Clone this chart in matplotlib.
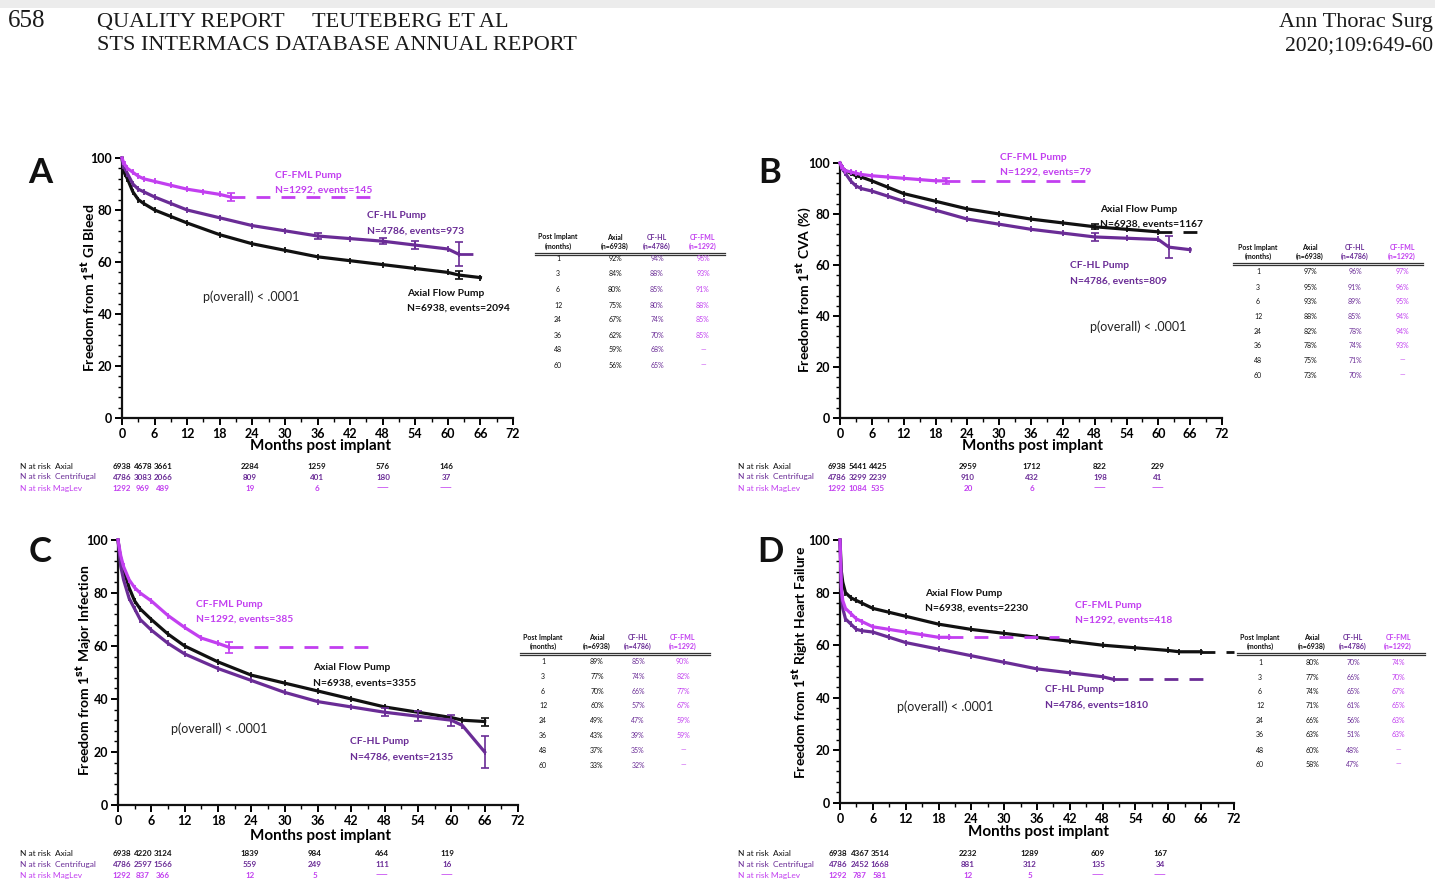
import matplotlib
matplotlib.use("Agg")
import matplotlib.pyplot as plt
from matplotlib.patches import Rectangle
from matplotlib.ticker import MultipleLocator, AutoMinorLocator

plt.rcParams['font.family'] = ['Lato', 'DejaVu Sans']

W, H = 1435, 880
BLACK = "#111111"
HL = "#6a2c96"
FML = "#c23ff0"

# ---- survival data (months post implant, % freedom from event) ----
m_long = [0, 0.25, 0.5, 1, 2, 3, 4, 6, 9, 12, 18, 24, 30, 36, 42, 48, 54, 60, 62, 66]
m_fml = [0, 0.25, 0.5, 1, 2, 3, 4, 6, 9, 12, 15, 18, 20]
m_hl_d = [0, 0.25, 0.5, 1, 2, 3, 4, 6, 9, 12, 18, 24, 30, 36, 42, 48, 50]

axial_a = [100, 96, 94, 92, 87, 84, 82.5, 80, 77.5, 75, 70.5, 67, 64.5, 62, 60.5, 59, 57.5, 56, 55, 54]
hl_a = [100, 97, 96, 94, 90, 88, 87, 85, 82.5, 80, 77, 74, 72, 70, 69, 68, 66.5, 65, 63]
fml_a = [100, 98.5, 97.5, 96, 94.5, 93, 92, 91, 89.5, 88, 87, 86, 85]

axial_b = [100, 99, 98, 97, 96, 95, 94.5, 93, 90.5, 88, 85, 82, 80, 78, 76.5, 75, 74, 73]
hl_b = [100, 98.5, 97.5, 96, 93, 91, 90, 89, 87, 85, 81.5, 78, 76, 74, 72.5, 71, 70.5, 70, 67, 66]
fml_b = [100, 99, 98, 97, 96.5, 96, 95.5, 95, 94.5, 94, 93.5, 93, 93]

axial_c = [100, 96, 93, 89, 82, 77, 74, 70, 64.5, 60, 54, 49, 46, 43, 40, 37, 35, 33, 32, 31.5]
hl_c = [100, 95, 90, 85, 78, 74, 70, 66, 61, 57, 51.5, 47, 42.5, 39, 37, 35, 33.5, 32, 30, 20]
fml_c = [100, 97, 94, 90, 85, 82, 80, 77, 71.5, 67, 63, 61, 59.5]

axial_d = [100, 88, 84, 80, 78, 77, 76, 74, 72.5, 71, 68, 66, 64.5, 63, 61.5, 60, 59, 58, 57.5, 57.5]
hl_d = [100, 80, 74, 70, 68, 66, 65.5, 65, 63, 61, 58.5, 56, 53.5, 51, 49.5, 48, 47]
fml_d = [100, 82, 77, 74, 72, 70, 69, 67, 66, 65, 64, 63, 63]

# ---- side tables ----
table_months = [1, 3, 6, 12, 24, 36, 48, 60]
tab_a = ([92, 84, 80, 75, 67, 62, 59, 56], [94, 88, 85, 80, 74, 70, 68, 65], [96, 93, 91, 88, 85, 85, None, None])
tab_b = ([97, 95, 93, 88, 82, 78, 75, 73], [96, 91, 89, 85, 78, 74, 71, 70], [97, 96, 95, 94, 94, 93, None, None])
tab_c = ([89, 77, 70, 60, 49, 43, 37, 33], [85, 74, 66, 57, 47, 39, 35, 32], [90, 82, 77, 67, 59, 59, None, None])
tab_d = ([80, 77, 74, 71, 66, 63, 60, 58], [70, 66, 65, 61, 56, 51, 48, 47], [74, 70, 67, 65, 63, 63, None, None])

# ---- numbers at risk ----
risk_a = ([6938, 4678, 3661, 2284, 1259, 576, 146], [4786, 3083, 2066, 809, 401, 180, 37], [1292, 969, 489, 19, 6, None, None])
risk_b = ([6938, 5441, 4425, 2959, 1712, 822, 229], [4786, 3299, 2239, 910, 432, 198, 41], [1292, 1084, 535, 20, 6, None, None])
risk_c = ([6938, 4220, 3124, 1839, 984, 464, 119], [4786, 2597, 1566, 559, 249, 111, 16], [1292, 837, 366, 12, 5, None, None])
risk_d = ([6938, 4367, 3514, 2232, 1289, 609, 167], [4786, 2452, 1668, 881, 312, 135, 34], [1292, 787, 581, 12, 5, None, None])

fig = plt.figure(figsize=(W / 100, H / 100), dpi=100)
fig.patch.set_facecolor("white")


def fx(x):
    return x / W


def fy(y):
    return 1 - y / H


def ptext(x, y, s, **kw):
    fig.text(fx(x), fy(y), s, **kw)


# page header
fig.patches.append(Rectangle((0, fy(8)), 1, 8 / H, transform=fig.transFigure,
                             facecolor="#ececec", edgecolor="none"))
serif = dict(family="Liberation Serif", color="#1a1a1a")
ptext(8, 21, "658", fontsize=18, va="center", **serif)
ptext(97, 23, "QUALITY REPORT     TEUTEBERG ET AL", fontsize=16, va="center", **serif)
ptext(97, 46, "STS INTERMACS DATABASE ANNUAL REPORT", fontsize=16, va="center", **serif)
ptext(1433, 23, "Ann Thorac Surg", fontsize=16, va="center", ha="right", **serif)
ptext(1433, 46, "2020;109:649-60", fontsize=15.5, va="center", ha="right", **serif)


def panel(p):
    l, t, r, b = p["rect"]
    ax = fig.add_axes([fx(l), fy(b), (r - l) / W, (b - t) / H])
    ax.set_xlim(0, 72)
    ax.set_ylim(0, 100)
    for s in ("top", "right"):
        ax.spines[s].set_visible(False)
    for s in ("left", "bottom"):
        ax.spines[s].set_linewidth(1.6)
        ax.spines[s].set_color(BLACK)
    ax.xaxis.set_major_locator(MultipleLocator(6))
    ax.xaxis.set_minor_locator(AutoMinorLocator(2))
    ax.yaxis.set_major_locator(MultipleLocator(20))
    ax.yaxis.set_minor_locator(AutoMinorLocator(5))
    ax.tick_params(which="major", length=5, width=1.4, labelsize=9, pad=2)
    ax.tick_params(which="minor", length=3, width=1.0)
    for lab in ax.get_xticklabels() + ax.get_yticklabels():
        lab.set_fontweight("bold")
    ax.patch.set_alpha(0)

    for months, vals, color, dash_to, errs in p["curves"]:
        ax.plot(months[:len(vals)], vals, color=color, lw=2.3, marker="|", ms=4.5, mew=1.3,
                markevery=slice(1, None), clip_on=False, zorder=3)
        last = months[len(vals) - 1]
        if dash_to:
            ax.plot([last, dash_to], [vals[-1], vals[-1]], color=color, lw=2.0,
                    ls=(0, (5, 4)), clip_on=False, zorder=3)
        for m, half in errs:
            i = months.index(m)
            ax.errorbar(m, vals[i], yerr=half, color=color, capsize=3, lw=1.2,
                        capthick=1.2, zorder=4)

    # panel letter, axis titles
    lx, ly = p["letter_xy"]
    ptext(lx, ly, p["name"], fontsize=25, fontweight="bold", ha="center", va="center", color=BLACK)
    lx, ly = p["ylab_xy"]
    ptext(lx, ly, p["ylabel"], rotation=90, fontsize=10, fontweight="bold", ha="center", va="center")
    mx, my = p["xlab_xy"]
    ptext(mx, my, "Months post implant", fontsize=11, fontweight="bold", ha="center", va="center")
    px, py = p["p_xy"]
    ptext(px, py, "p(overall) < .0001", fontsize=9, ha="left", va="center", color="#222222")

    # curve labels
    for (x, y), name, info, color in p["labels"]:
        ptext(x, y, name, fontsize=7.4, fontweight="bold", color=color, va="center")
        ptext(x, y + 15, info, fontsize=7.4, fontweight="bold", color=color, va="center")

    # side table
    cols = p["tab_x"]
    hy = p["tab_hy"]
    heads = [("Post Implant", "(months)", BLACK), ("Axial", "(n=6938)", BLACK),
             ("CF-HL", "(n=4786)", HL), ("CF-FML", "(n=1292)", FML)]
    for cx, (h1, h2, c) in zip(cols, heads):
        ptext(cx, hy, h1, fontsize=5, fontweight="bold", color=c, ha="center", va="center")
        ptext(cx, hy + 9, h2, fontsize=5, fontweight="bold", color=c, ha="center", va="center")
    x0, x1 = p["tab_line"]
    ly0 = hy + 16
    for dy in (0, 2):
        fig.add_artist(plt.Line2D([fx(x0), fx(x1)], [fy(ly0 + dy), fy(ly0 + dy)],
                                  transform=fig.transFigure, color="#333333", lw=0.9))
    colors = [BLACK, HL, FML]
    for k, m in enumerate(table_months):
        ry = p["tab_rows"][k]
        ptext(cols[0], ry, str(m), fontsize=5, ha="center", va="center", color=BLACK)
        for j in range(3):
            v = p["table"][j][k]
            s = "\u2014" if v is None else f"{v}%"
            ptext(cols[j + 1], ry, s, fontsize=5, ha="center", va="center", color=colors[j])

    # numbers at risk
    rl = p["risk_label_x"]
    names = ["N at risk  Axial", "N at risk  Centrifugal", "N at risk MagLev"]
    for j in range(3):
        ry = p["risk_y"][j]
        ptext(rl, ry, names[j], fontsize=6, color=colors[j], va="center")
        for cx, v in zip(p["risk_x"], p["risk"][j]):
            s = "\u2014\u2014" if v is None else str(v)
            ptext(cx, ry, s, fontsize=5.8, fontweight="bold", color=colors[j], ha="center", va="center")
    return ax


panels = [
    dict(name="A", rect=(122, 158, 513, 418), letter_xy=(40, 173), ylabel="Freedom from 1$^{\\mathbf{st}}$ GI Bleed",
         ylab_xy=(88, 288), xlab_xy=(320, 446), p_xy=(203, 297),
         curves=[(m_long, axial_a, BLACK, None, [(62, 1.5)]),
                 (m_long, hl_a, HL, 66, [(36, 1.0), (48, 1.2), (54, 1.5), (62, 4.5)]),
                 (m_fml, fml_a, FML, 47, [(20, 1.5)])],
         labels=[((275, 175), "CF-FML Pump", "N=1292, events=145", FML),
                 ((367, 216), "CF-HL Pump", "N=4786, events=973", HL),
                 ((407, 293), "Axial Flow Pump", "N=6938, events=2094", BLACK)],
         table=tab_a, tab_x=[558, 615, 657, 703], tab_hy=237, tab_line=(535, 725),
         tab_rows=[258, 274, 289, 305, 319, 335, 350, 365],
         risk=risk_a, risk_x=[122, 143, 163, 250, 317, 383, 446], risk_y=[466, 477, 488], risk_label_x=20),
    dict(name="B", rect=(840, 163, 1222, 418), letter_xy=(770, 173), ylabel="Freedom from 1$^{\\mathbf{st}}$ CVA (%)",
         ylab_xy=(804, 290), xlab_xy=(1033, 446), p_xy=(1090, 327),
         curves=[(m_long, axial_b, BLACK, 68, [(48, 1.0)]),
                 (m_long, hl_b, HL, None, [(48, 1.5), (62, 4.2)]),
                 (m_fml, fml_b, FML, 47, [(20, 1.2)])],
         labels=[((1000, 157), "CF-FML Pump", "N=1292, events=79", FML),
                 ((1100, 209), "Axial Flow Pump", "N=6938, events=1167", BLACK),
                 ((1070, 266), "CF-HL Pump", "N=4786, events=809", HL)],
         table=tab_b, tab_x=[1258, 1310, 1355, 1402], tab_hy=247, tab_line=(1233, 1423),
         tab_rows=[272, 287, 301, 316, 331, 345, 360, 375],
         risk=risk_b, risk_x=[837, 858, 878, 968, 1032, 1100, 1158], risk_y=[466, 477, 488], risk_label_x=738),
    dict(name="C", rect=(118, 540, 518, 805), letter_xy=(40, 552), ylabel="Freedom from 1$^{\\mathbf{st}}$ Major Infection",
         ylab_xy=(84, 670), xlab_xy=(320, 836), p_xy=(171, 729),
         curves=[(m_long, axial_c, BLACK, None, [(66, 1.5)]),
                 (m_long, hl_c, HL, None, [(48, 1.5), (54, 1.8), (60, 2.0), (66, 6.0)]),
                 (m_fml, fml_c, FML, 47, [(20, 2.0)])],
         labels=[((196, 604), "CF-FML Pump", "N=1292, events=385", FML),
                 ((313, 668), "Axial Flow Pump", "N=6938, events=3355", BLACK),
                 ((350, 742), "CF-HL Pump", "N=4786, events=2135", HL)],
         table=tab_c, tab_x=[543, 597, 638, 683], tab_hy=637, tab_line=(520, 710),
         tab_rows=[661, 676, 691, 705, 720, 735, 750, 765],
         risk=risk_c, risk_x=[122, 143, 163, 250, 315, 382, 447], risk_y=[853, 864, 875], risk_label_x=20),
    dict(name="D", rect=(840, 540, 1234, 803), letter_xy=(770, 552), ylabel="Freedom from 1$^{\\mathbf{st}}$ Right Heart Failure",
         ylab_xy=(800, 662), xlab_xy=(1038, 832), p_xy=(897, 707),
         curves=[(m_long, axial_d, BLACK, 72, []),
                 (m_hl_d, hl_d, HL, 67, []),
                 (m_fml, fml_d, FML, 40, [])],
         labels=[((925, 593), "Axial Flow Pump", "N=6938, events=2230", BLACK),
                 ((1075, 605), "CF-FML Pump", "N=1292, events=418", FML),
                 ((1045, 690), "CF-HL Pump", "N=4786, events=1810", HL)],
         table=tab_d, tab_x=[1260, 1312, 1353, 1398], tab_hy=637, tab_line=(1237, 1425),
         tab_rows=[662, 677, 691, 705, 720, 734, 750, 764],
         risk=risk_d, risk_x=[838, 860, 880, 968, 1030, 1098, 1160], risk_y=[853, 864, 875], risk_label_x=738),
]

for p in panels:
    panel(p)

fig.savefig("out.png", dpi=100, facecolor="white")
